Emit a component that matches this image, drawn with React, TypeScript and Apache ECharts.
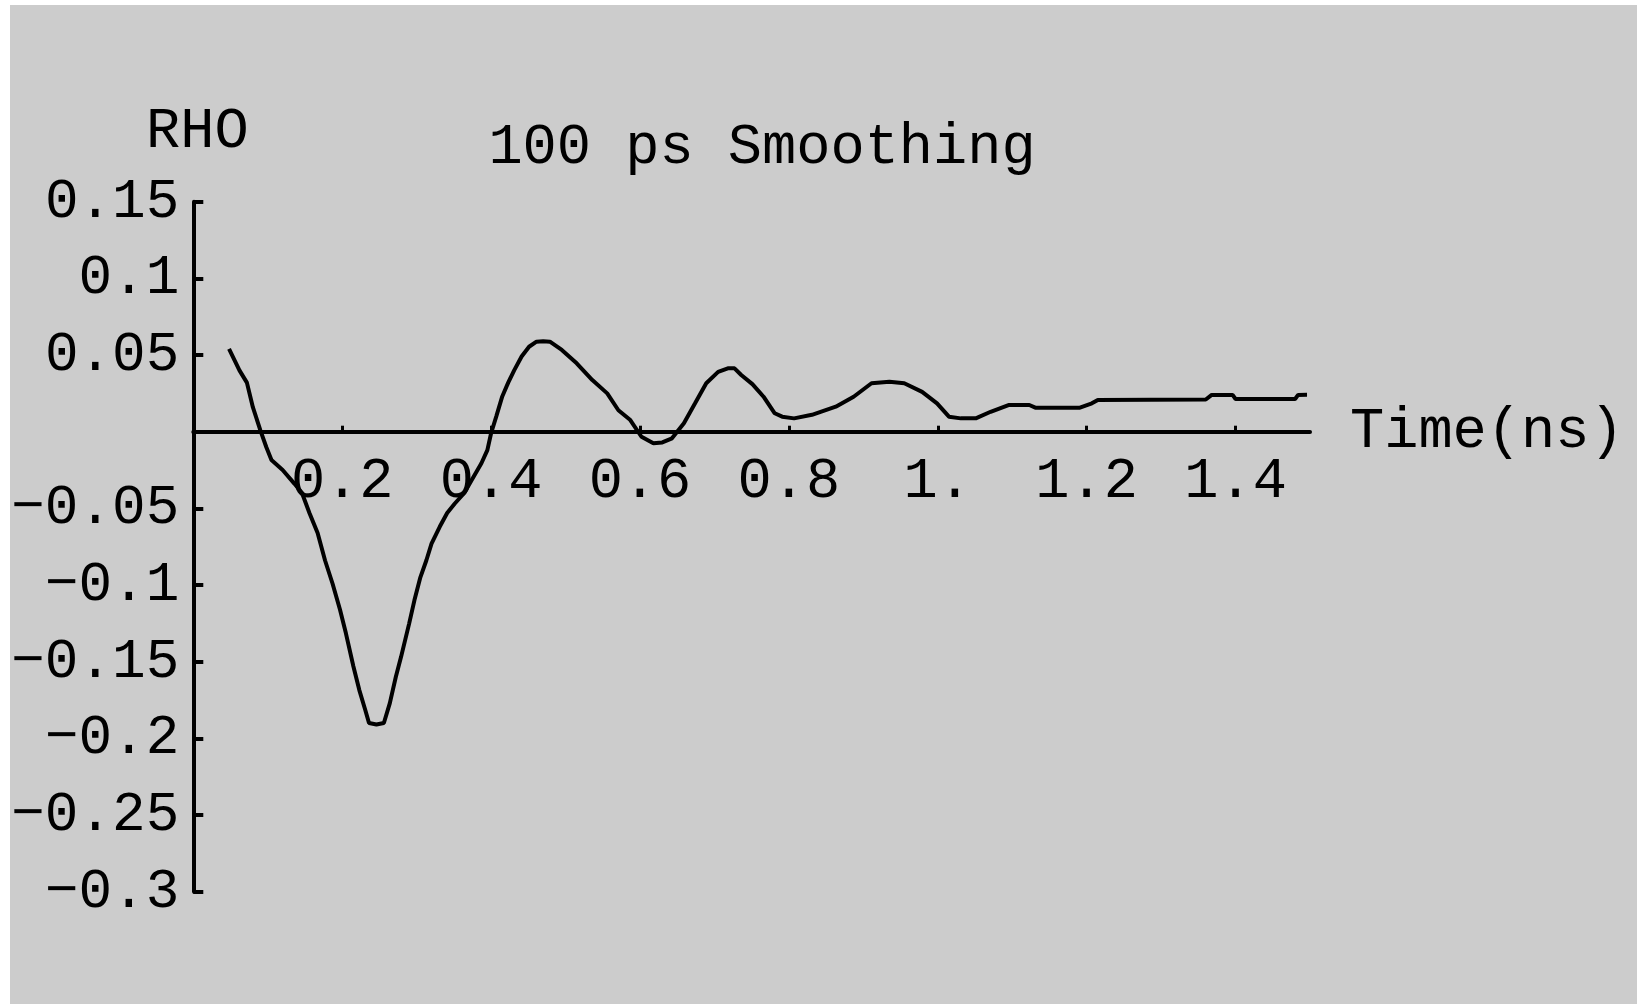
import React, { useEffect, useRef } from "react";
import * as echarts from "echarts";

// Time axis (ns) and RHO values
const timeNs = [
  0.048, 0.062, 0.072, 0.08, 0.09, 0.098, 0.105, 0.12, 0.136, 0.146,
  0.156, 0.167, 0.177, 0.187, 0.197, 0.205, 0.215, 0.223, 0.231, 0.236,
  0.246, 0.256, 0.264, 0.272, 0.279, 0.29, 0.297, 0.305, 0.313, 0.32,
  0.331, 0.341, 0.351, 0.364, 0.374, 0.387, 0.395, 0.4, 0.407, 0.415,
  0.423, 0.431, 0.441, 0.451, 0.461, 0.47, 0.479, 0.495, 0.515, 0.536,
  0.556, 0.571, 0.587, 0.602, 0.618, 0.63, 0.643, 0.659, 0.674, 0.689,
  0.705, 0.718, 0.727, 0.736, 0.751, 0.766, 0.781, 0.791, 0.807, 0.831,
  0.863, 0.887, 0.911, 0.935, 0.955, 0.979, 0.999, 1.015, 1.031, 1.051,
  1.071, 1.095, 1.123, 1.131, 1.191, 1.207, 1.215, 1.36, 1.368, 1.396,
  1.4, 1.48, 1.484, 1.496,
];
const rho = [
  0.054, 0.04, 0.032, 0.016, 0.001, -0.01, -0.0185, -0.025, -0.034, -0.04,
  -0.053, -0.066, -0.084, -0.099, -0.116, -0.1315, -0.153, -0.1685, -0.1815, -0.19,
  -0.191, -0.19, -0.177, -0.16, -0.147, -0.125, -0.11, -0.095, -0.084, -0.073,
  -0.062, -0.053, -0.047, -0.04, -0.0315, -0.0206, -0.012, -0.001, 0.01, 0.023,
  0.032, 0.04, 0.049, 0.0554, 0.0587, 0.059, 0.0587, 0.0533, 0.0446, 0.0337,
  0.025, 0.014, 0.0076, -0.0033, -0.0076, -0.007, -0.0043, 0.0055, 0.0185, 0.0316,
  0.039, 0.0413, 0.0413, 0.037, 0.031, 0.0228, 0.012, 0.0098, 0.0087, 0.011,
  0.0163, 0.0228, 0.0316, 0.0326, 0.0316, 0.026, 0.0185, 0.0098, 0.0087, 0.0087,
  0.013, 0.0174, 0.0174, 0.0157, 0.0157, 0.0185, 0.0207, 0.021, 0.024, 0.024,
  0.0213, 0.0213, 0.024, 0.0241,
];

const xTickValues = [0.2, 0.4, 0.6, 0.8, 1.0, 1.2, 1.4];
const xTickLabels = ["0.2", "0.4", "0.6", "0.8", "1.", "1.2", "1.4"];
const yTickValues = [0.15, 0.1, 0.05, -0.05, -0.1, -0.15, -0.2, -0.25, -0.3];
const yTickLabels = ["0.15", "0.1", "0.05", "\u22120.05", "\u22120.1", "\u22120.15", "\u22120.2", "\u22120.25", "\u22120.3"];
const yMin = -0.3;
const yMax = 0.15;

const titleText = "100 ps Smoothing";
const yAxisName = "RHO";
const xAxisName = "Time(ns)";

const FONT = "'Liberation Mono', 'DejaVu Sans Mono', monospace";
const FS = 57;

const GRID_TOP = 196.7;
const GRID_BOTTOM = 112.3;
const CHART_H = 999;

function lookup(vals: number[], labels: string[], v: number): string {
  for (let i = 0; i < vals.length; i++) {
    if (Math.abs(vals[i] - v) < 1e-6) return labels[i];
  }
  return "";
}

export default function App() {
  const ref = useRef<HTMLDivElement>(null);

  useEffect(() => {
    if (!ref.current) return;
    const chart = echarts.init(ref.current, undefined, { renderer: "svg" });
    const data = timeNs.map((t, i) => [t, rho[i]]);
    const titleWidth = titleText.length * FS * 0.6;
    // place the x axis (line, ticks, labels) on rho = 0
    const plotH = CHART_H - GRID_TOP - GRID_BOTTOM;
    const zeroOffset = -plotH * (0 - yMin) / (yMax - yMin);
    chart.setOption({
      animation: false,
      backgroundColor: "#cccccc",
      title: {
        text: titleText,
        left: 752 - titleWidth / 2 - 5,
        top: 109,
        textStyle: {
          fontFamily: FONT,
          fontSize: FS,
          fontWeight: "normal",
          color: "#000",
        },
      },
      grid: {
        left: 183.3,
        right: 327,
        top: GRID_TOP,
        bottom: GRID_BOTTOM,
        containLabel: false,
        outerBoundsMode: "none",
      },
      xAxis: {
        type: "value",
        min: 0,
        max: 1.5,
        interval: 0.2,
        offset: zeroOffset,
        name: xAxisName,
        nameLocation: "end",
        nameGap: 40,
        nameTextStyle: {
          fontFamily: FONT,
          fontSize: FS,
          color: "#000",
          align: "left",
          verticalAlign: "middle",
        },
        axisLine: { show: true, onZero: false, lineStyle: { color: "#000", width: 4 } },
        axisTick: {
          show: true,
          inside: true,
          length: 6,
          customValues: xTickValues,
          lineStyle: { color: "#000", width: 3 },
        },
        axisLabel: {
          show: true,
          margin: 22,
          customValues: xTickValues,
          fontFamily: FONT,
          fontSize: FS,
          color: "#000",
          formatter: (v: number) => lookup(xTickValues, xTickLabels, v),
        },
        splitLine: { show: false },
      },
      yAxis: {
        type: "value",
        min: yMin,
        max: yMax,
        interval: 0.05,
        name: yAxisName,
        nameLocation: "end",
        nameGap: 70,
        nameTextStyle: {
          fontFamily: FONT,
          fontSize: FS,
          color: "#000",
          align: "center",
          verticalAlign: "middle",
          padding: [0, 0, 0, 8],
        },
        axisLine: { show: true, onZero: false, lineStyle: { color: "#000", width: 4 } },
        axisTick: {
          show: true,
          inside: true,
          length: 10,
          customValues: yTickValues,
          lineStyle: { color: "#000", width: 4 },
        },
        axisLabel: {
          show: true,
          margin: 14,
          customValues: yTickValues,
          fontFamily: FONT,
          fontSize: 56,
          color: "#000",
          formatter: (v: number) => lookup(yTickValues, yTickLabels, v),
        },
        splitLine: { show: false },
      },
      series: [
        {
          type: "line",
          data,
          showSymbol: false,
          symbol: "none",
          smooth: false,
          lineStyle: { color: "#000", width: 4 },
          silent: true,
        },
      ],
    });
    return () => {
      chart.dispose();
    };
  }, []);

  return (
    <div
      ref={ref}
      style={{
        position: "absolute",
        left: 10,
        top: 5,
        width: 1627,
        height: 999,
        background: "#cccccc",
      }}
    />
  );
}
